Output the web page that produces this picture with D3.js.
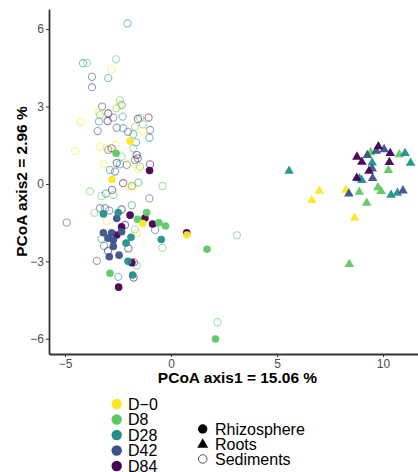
<!DOCTYPE html>
<html><head><meta charset="utf-8">
<script src="https://cdn.jsdelivr.net/npm/d3@7"></script>
<style>body{margin:0;background:#fff}svg{display:block}text{font-family:"Liberation Sans",Arial,sans-serif}</style>
</head><body><svg id="c" width="418" height="472"></svg>
<script>
// ---- data (PCoA axis1, axis2) ----
const groups = ["D−0","D8","D28","D42","D84"];
const colors = ["#FDE725","#5DC863","#21908C","#3B528B","#440154"];
const types = ["Rhizosphere","Roots","Sediments"];
const xTicks = [-5,0,5,10];
const yTicks = [-6,-3,0,3,6];

const sedD0 = [[-2.81,4.44],[-3.41,2.80],[-4.25,2.41],[-1.31,2.05],[-4.53,1.28],[-3.35,1.45],[-2.64,1.51],[-3.19,0.76],[-1.93,0.80],[-1.54,0.58],[-2.01,-0.10],[-1.75,-0.08],[-3.03,-1.43],[-1.62,-1.91],[-2.45,3.02],[-3.03,1.38]];
const sedD8 = [[-3.96,4.69],[-2.59,4.83],[-2.41,3.24],[-2.57,2.93],[-3.35,2.67],[-1.46,2.56],[-1.70,2.22],[-1.33,2.31],[-2.33,1.06],[-1.78,1.38],[-1.46,0.67],[-0.40,-0.08],[-3.82,-0.29],[-3.28,-0.47],[-2.72,-0.43],[-3.61,-1.12],[-1.70,-1.76],[-1.62,-3.16],[-0.40,-2.47],[3.11,-1.99],[2.19,-5.36]];
const sedD28 = [[-2.05,6.22],[-4.15,4.68],[-2.96,4.10],[-2.33,3.06],[-3.40,2.42],[-2.28,2.61],[-2.25,2.16],[-1.02,1.79],[-1.78,1.93],[-1.65,1.61],[-2.41,0.76],[-2.88,0.54],[-1.85,-0.08],[-1.54,0.05],[-3.07,-0.37],[-1.85,-0.83],[-3.28,-2.13],[-2.49,-3.60]];
const sedD42 = [[-3.73,4.15],[-3.73,3.75],[-3.25,3.00],[-2.72,2.57],[-3.46,2.05],[-2.56,2.18],[-2.03,2.02],[-0.99,2.09],[-2.96,1.32],[-2.09,0.74],[-2.64,0.48],[-1.70,0.93],[-1.02,-0.56],[-3.35,-0.94],[-3.11,-0.94],[-4.92,-1.50],[-0.75,-1.78],[-3.50,-2.98],[-2.91,-1.03],[-3.16,-2.40]];
const sedD84 = [[-2.96,2.73],[-2.99,2.44],[-1.56,2.52],[-1.06,2.57],[-2.80,1.38],[-1.62,1.12],[-1.57,0.99],[-2.56,0.81],[-0.99,0.76],[-2.26,0.03],[-2.78,-0.23],[-2.33,-0.99],[-2.17,-1.59],[-2.01,-2.50],[-1.75,-3.04],[-1.76,-3.63],[-2.97,-2.60]];

const rhiD0 = [[-1.93,1.66],[-2.78,0.17],[-1.33,-1.53],[0.75,-1.98]];
const rhiD8 = [[-2.59,1.19],[-2.88,-3.46],[-1.58,-1.37],[-1.15,-1.11],[-0.57,-1.50],[-0.26,-1.63],[1.70,-2.53],[2.10,-6.01]];
const rhiD28 = [[-3.19,-1.16],[-2.49,-1.11],[-2.12,-2.29],[-1.89,-2.07],[-0.46,-2.15],[-2.03,-3.00],[-1.81,-3.53]];
const rhiD42 = [[-2.56,-1.34],[-3.19,-1.89],[-2.80,-1.89],[-2.33,-1.85],[-2.97,-2.10],[-2.72,-2.17],[-2.72,-2.42],[-2.91,-2.82],[-2.45,-2.76]];
const rhiD84 = [[-1.01,0.52],[-1.93,-1.21],[-1.23,-1.32],[-0.87,-1.55],[-2.56,-1.98],[-1.85,-3.05],[-2.47,-4.00],[0.74,-1.89],[-2.33,-1.66]];

const rootD0 = [[7.00,-0.27],[6.64,-0.63],[8.25,-0.23],[8.66,-1.32]];
const rootD8 = [[9.42,1.22],[10.77,1.14],[10.25,0.53],[9.76,-0.14],[9.91,-0.28],[8.88,-0.31],[9.23,-0.74],[8.41,-3.11]];
const rootD28 = [[5.57,0.50],[11.04,1.19],[11.30,0.81],[9.49,0.82],[8.89,0.21],[9.00,0.14],[10.38,-0.43],[10.68,-0.35]];
const rootD42 = [[10.05,1.34],[9.68,1.28],[9.26,1.11],[9.49,0.59],[9.51,0.22],[10.94,-0.26],[8.39,-0.38]];
const rootD84 = [[9.78,1.45],[8.77,1.05],[10.34,1.19],[9.00,0.85],[10.30,0.84],[9.34,0.50],[8.76,0.23]];

const sediments = [sedD0, sedD8, sedD28, sedD42, sedD84];
const rhizosphere = [rhiD0, rhiD8, rhiD28, rhiD42, rhiD84];
const roots = [rootD0, rootD8, rootD28, rootD42, rootD84];

// ---- layout ----
const svg = d3.select("#c");
const L = 49, R = 418, T = 9, B = 354;
const x = d3.scaleLinear().domain([-5.755, 11.65]).range([L, R]);
const y = d3.scaleLinear().domain([-6.59, 6.78]).range([B, T]);
const color = d3.scaleOrdinal().domain(groups).range(colors);

const pts = svg.append("g");
// sediments: open circles
[4,3,2,1,0].forEach(i => {
  pts.selectAll(null).data(sediments[i]).enter().append("circle")
    .attr("cx", d => x(d[0])).attr("cy", d => y(d[1])).attr("r", 3.6)
    .attr("fill", "none").attr("stroke", color(groups[i])).attr("stroke-width", 1.1)
    .attr("stroke-opacity", 0.55);
});
// rhizosphere: filled circles
[4,3,2,1,0].forEach(i => {
  pts.selectAll(null).data(rhizosphere[i]).enter().append("circle")
    .attr("cx", d => x(d[0])).attr("cy", d => y(d[1])).attr("r", 3.8)
    .attr("fill", color(groups[i])).attr("fill-opacity", 0.95);
});
// roots: triangles
const tri = d3.symbol().type(d3.symbolTriangle).size(40);
[0,1,2,3,4].forEach(i => {
  pts.selectAll(null).data(roots[i]).enter().append("path")
    .attr("d", tri).attr("transform", d => `translate(${x(d[0])},${y(d[1])})`)
    .attr("fill", color(groups[i])).attr("fill-opacity", 0.95);
});

// ---- axes ----
const xa = svg.append("g").attr("transform", `translate(0,${B})`)
  .call(d3.axisBottom(x).tickValues(xTicks).tickSize(3).tickSizeOuter(0).tickPadding(2));
const ya = svg.append("g").attr("transform", `translate(${L},0)`)
  .call(d3.axisLeft(y).tickValues(yTicks).tickSize(3).tickSizeOuter(0).tickPadding(2));
[xa, ya].forEach(a => {
  a.select(".domain").attr("stroke", "#333").attr("stroke-width", 1.8);
  a.selectAll(".tick line").attr("stroke", "#333");
  a.selectAll(".tick text").attr("fill", "#4D4D4D").attr("font-size", 12)
    .style("font-family", '"Liberation Sans",Arial,sans-serif');
});

svg.append("text").attr("x", (L + R) / 2 + 4).attr("y", 383).attr("text-anchor", "middle")
  .attr("font-size", 15.5).attr("font-weight", "bold").text("PCoA axis1 = 15.06 %");
svg.append("text").attr("transform", `translate(27,${(T + B) / 2}) rotate(-90)`)
  .attr("text-anchor", "middle").attr("font-size", 15.5).attr("font-weight", "bold")
  .text("PCoA axis2 = 2.96 %");

// ---- legends ----
const lg = svg.append("g");
groups.forEach((g, i) => {
  const cy = 404 + i * 15.5;
  lg.append("circle").attr("cx", 116.7).attr("cy", cy).attr("r", 5.2).attr("fill", color(g));
  lg.append("text").attr("x", 128).attr("y", cy).attr("dy", "0.35em").attr("font-size", 16).text(g);
});
const sg = svg.append("g");
types.forEach((t, i) => {
  const cy = 429 + i * 15;
  if (i === 0) sg.append("circle").attr("cx", 202.7).attr("cy", cy).attr("r", 4.7).attr("fill", "#000");
  else if (i === 1) sg.append("path").attr("d", d3.symbol().type(d3.symbolTriangle).size(52)())
    .attr("transform", `translate(202.7,${cy + 0.5})`).attr("fill", "#000");
  else sg.append("circle").attr("cx", 202.7).attr("cy", cy).attr("r", 4.3).attr("fill", "none")
    .attr("stroke", "#555").attr("stroke-width", 1);
  sg.append("text").attr("x", 215).attr("y", cy).attr("dy", "0.35em").attr("font-size", 16).text(t);
});
</script></body></html>
